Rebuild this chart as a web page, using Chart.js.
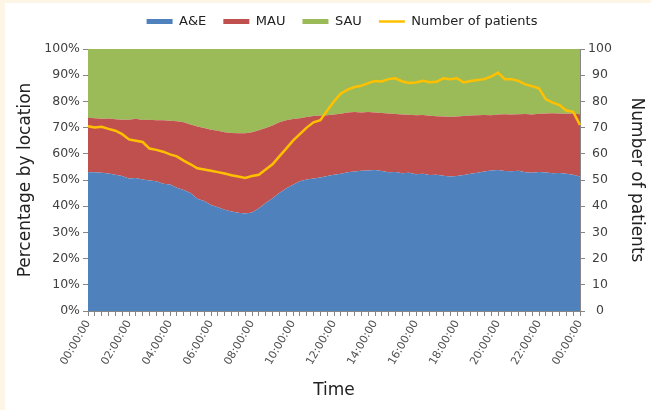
<!DOCTYPE html>
<html>
<head>
<meta charset="utf-8">
<script src="https://cdn.jsdelivr.net/npm/chart.js@4.4.1/dist/chart.umd.min.js"></script>
<style>
  html, body { margin: 0; padding: 0; background: #fdf6e6; }
  #wrap { position: absolute; left: 5px; top: 3px; width: 646px; height: 407px; background: #fff; }
</style>
</head>
<body>
<div id="wrap"><canvas id="chart" width="646" height="407"></canvas></div>
<script>
// one point every 20 minutes, 00:00 -> 24:00
const times = [];
for (let m = 0; m <= 24 * 60; m += 20) {
    const h = Math.floor(m / 60) % 24, mm = m % 60;
    times.push(String(h).padStart(2, '0') + ':' + String(mm).padStart(2, '0') + ':00');
}
const tickLabels = ['00:00:00', '02:00:00', '04:00:00', '06:00:00', '08:00:00', '10:00:00',
    '12:00:00', '14:00:00', '16:00:00', '18:00:00', '20:00:00', '22:00:00', '00:00:00'];

// share of patients by location (%), three readings per hour
const aeShare = [
    53.0, 53.0, 52.8,  52.5, 52.0, 51.5,  50.6, 50.8, 50.2,  49.8, 49.5, 48.6,
    48.3, 47.0, 46.2,  45.0, 42.8, 42.0,  40.5, 39.6, 38.6,  38.0, 37.5, 37.2,
    37.6, 39.2, 41.2,  43.0, 45.0, 46.8,  48.2, 49.5, 50.2,  50.6, 51.0, 51.5,
    52.0, 52.4, 53.0,  53.2, 53.5, 53.6,  53.8, 53.4, 53.0,  53.1, 52.6, 52.8,
    52.2, 52.4, 51.9,  52.0, 51.6, 51.3,  51.5, 51.9, 52.4,  52.8, 53.2, 53.6,
    53.8, 53.4, 53.3,  53.5, 53.0, 52.8,  53.1, 52.9, 52.6,  52.7, 52.4, 52.0,
    51.3
];
const mauShare = [
    20.8, 20.6, 20.6,  21.0, 21.2, 21.5,  22.4, 22.6, 22.7,  23.2, 23.3, 24.2,
    24.3, 25.4, 25.8,  26.2, 27.6, 27.8,  28.7, 29.2, 29.6,  29.9, 30.3, 30.6,
    30.6, 29.8, 28.6,  27.8, 27.0, 26.0,  25.1, 24.1, 23.8,  23.8, 23.6, 23.2,
    23.0, 22.9, 22.8,  22.8, 22.3, 22.4,  22.0, 22.2, 22.4,  22.1, 22.4, 22.1,
    22.5, 22.4, 22.6,  22.3, 22.6, 22.8,  22.7, 22.5, 22.2,  21.9, 21.6, 21.1,
    21.2, 21.7, 21.7,  21.6, 22.2, 22.2,  22.2, 22.5, 22.9,  22.7, 22.9, 23.4,
    23.8
];
const sauShare = [
    26.2, 26.4, 26.6,  26.5, 26.8, 27.0,  27.0, 26.6, 27.1,  27.0, 27.2, 27.2,
    27.4, 27.6, 28.0,  28.8, 29.6, 30.2,  30.8, 31.2, 31.8,  32.1, 32.2, 32.2,
    31.8, 31.0, 30.2,  29.2, 28.0, 27.2,  26.7, 26.4, 26.0,  25.6, 25.4, 25.3,
    25.0, 24.7, 24.2,  24.0, 24.2, 24.0,  24.2, 24.4, 24.6,  24.8, 25.0, 25.1,
    25.3, 25.2, 25.5,  25.7, 25.8, 25.9,  25.8, 25.6, 25.4,  25.3, 25.2, 25.3,
    25.0, 24.9, 25.0,  24.9, 24.8, 25.0,  24.7, 24.6, 24.5,  24.6, 24.7, 24.6,
    24.9
];
const patients = [
    70.5, 70.0, 70.3,  69.5, 68.8, 67.5,  65.5, 65.0, 64.5,  62.0, 61.5, 60.8,
    59.8, 59.0, 57.4,  56.0, 54.5, 54.0,  53.5, 53.0, 52.5,  51.8, 51.3, 50.8,
    51.5, 52.0, 54.0,  56.0, 59.0, 62.0,  65.0, 67.5, 70.0,  72.0, 72.8, 76.5,
    80.0, 83.0, 84.5,  85.5, 86.0, 87.0,  87.8, 87.6, 88.5,  88.8, 87.6, 87.0,
    87.2, 87.9, 87.3,  87.5, 88.8, 88.5,  88.8, 87.2, 87.8,  88.2, 88.5, 89.5,
    91.0, 88.5, 88.5,  87.8, 86.5, 85.8,  85.0, 80.8, 79.5,  78.6, 76.5, 76.0,
    71.0
];

Chart.defaults.font.family = "'DejaVu Sans', sans-serif";
Chart.defaults.color = '#404040';

const axisGray = '#868686';

// nudge the legend to where the original sits
const legendShift = {
    id: 'legendShift',
    afterLayout(chart) {
        const lg = chart.legend;
        lg.left += 11; lg.right += 11;
        lg.top -= 11; lg.bottom -= 11;
    }
};

function area(label, data, color, fill) {
    return {
        label, data, fill,
        yAxisID: 'y',
        backgroundColor: color,
        borderColor: color,
        borderWidth: 0,
        pointRadius: 0,
        pointStyle: 'rect',
        order: 1
    };
}

new Chart(document.getElementById('chart'), {
    type: 'line',
    data: {
        labels: times,
        datasets: [
            area('A&E', aeShare, '#4f81bd', 'origin'),
            area('MAU', mauShare, '#c0504d', '-1'),
            area('SAU', sauShare, '#9bbb59', '-1'),
            {
                label: 'Number of patients',
                data: patients,
                yAxisID: 'y2',
                borderColor: '#ffc000',
                backgroundColor: '#ffc000',
                borderWidth: 2.5,
                pointRadius: 0,
                pointStyle: 'line',
                fill: false,
                order: 0
            }
        ]
    },
    options: {
        responsive: false,
        animation: false,
        layout: { padding: { left: 6, right: 0, top: 6, bottom: 5 } },
        plugins: {
            tooltip: { enabled: false },
            legend: {
                position: 'top',
                labels: {
                    usePointStyle: true,
                    pointStyleWidth: 26,
                    boxHeight: 5,
                    padding: 17,
                    color: '#222',
                    font: { size: 13 },
                    sort: (a, b) => a.datasetIndex - b.datasetIndex
                }
            }
        },
        scales: {
            x: {
                grid: { drawOnChartArea: false, tickLength: 5, color: axisGray },
                border: { color: axisGray },
                ticks: {
                    autoSkip: false,
                    minRotation: 60,
                    maxRotation: 60,
                    padding: 2,
                    color: '#505050',
                    font: { size: 11 },
                    callback: (v, i) => (i % 6 === 0 ? tickLabels[i / 6] : '')
                },
                title: { display: true, text: 'Time', color: '#222', font: { size: 17 }, padding: { top: 4, bottom: 4 } },
                afterFit: s => { s.height = 94; }
            },
            y: {
                position: 'left',
                stacked: true,
                min: 0,
                max: 100,
                grid: { drawOnChartArea: false, tickLength: 5, color: axisGray },
                border: { color: axisGray },
                ticks: { stepSize: 10, padding: 3, font: { size: 12.5 }, callback: v => v + '%' },
                title: { display: true, text: 'Percentage by location', color: '#222', font: { size: 17 }, padding: { top: 4, bottom: 4 } },
                afterFit: s => { s.width = 77; }
            },
            y2: {
                position: 'right',
                min: 0,
                max: 100,
                grid: { drawOnChartArea: false, tickLength: 5, color: axisGray },
                border: { color: axisGray },
                ticks: { stepSize: 10, padding: 3, crossAlign: 'center', font: { size: 12.5 } },
                title: { display: true, text: 'Number of patients', color: '#222', font: { size: 17 }, padding: { top: 4, bottom: 4 } },
                afterFit: s => { s.width = 71; }
            }
        }
    },
    plugins: [legendShift]
});
</script>
</body>
</html>
